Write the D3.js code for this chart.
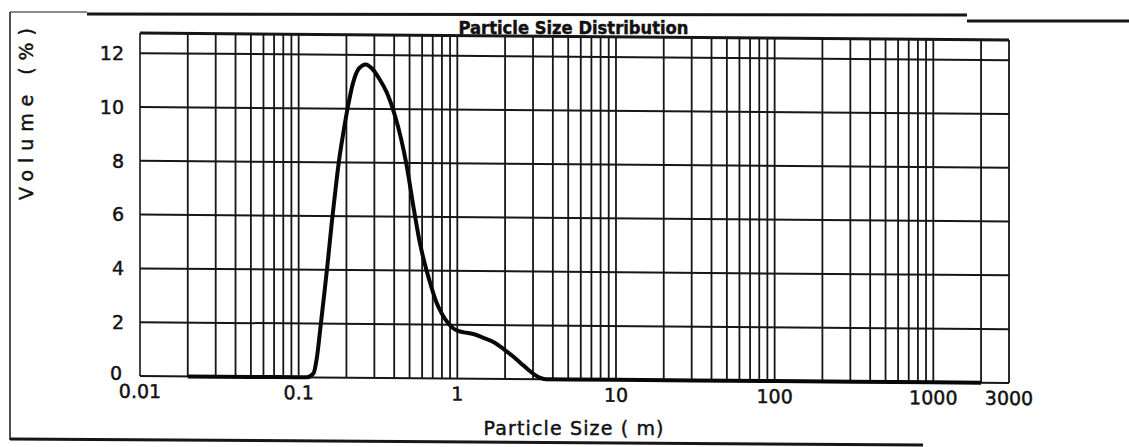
<!DOCTYPE html>
<html>
<head>
<meta charset="utf-8">
<script src="https://cdn.jsdelivr.net/npm/d3@7"></script>
<style>
  body { margin: 0; background: #fff; }
  text { font-family: "DejaVu Sans", sans-serif; fill: #111; stroke: #111; stroke-width: 0.45px; }
</style>
</head>
<body>
<div id="psd_chart"></div>
<script>
// ------------------------------------------------------------------------ //
// DATA
// ------------------------------------------------------------------------ //

// particle size (um) and volume (%) of the distribution curve
var sizes = [0.02, 0.05, 0.1, 0.113, 0.124, 0.13, 0.138, 0.145, 0.152, 0.162, 0.17, 0.179,
  0.19, 0.204, 0.22, 0.24, 0.265, 0.29, 0.32, 0.36, 0.40, 0.44, 0.476, 0.535, 0.58, 0.637,
  0.69, 0.736, 0.8, 0.877, 0.95, 1.0, 1.1, 1.26, 1.45, 1.71, 1.95, 2.2, 2.5, 2.79, 3.05,
  3.3, 3.6, 5, 10, 100, 1000, 2000]
var volume = [0, 0, 0, 0, 0.15, 0.7, 2.0, 3.1, 4.2, 5.8, 6.9, 8.0,
  9.0, 10.05, 10.95, 11.5, 11.65, 11.5, 11.15, 10.6, 9.85, 8.95, 8.0, 6.2, 5.05, 4.05,
  3.35, 2.85, 2.4, 2.05, 1.85, 1.78, 1.72, 1.66, 1.53, 1.35, 1.12, 0.88, 0.6, 0.36, 0.18,
  0.06, 0, 0, 0, 0, 0, 0]

// axis ticks and labels
var yTicks = [0, 2, 4, 6, 8, 10, 12]
var xLabels = [0.01, 0.1, 1, 10, 100, 1000, 3000]
var xDomain = [0.01, 3000]
var yDomain = [0, 12.75]

var chartTitle = "Particle Size Distribution"
var xTitle = "Particle Size ( m)"
var yTitle = "Volume (%)"

// ------------------------------------------------------------------------ //
// SVG AREA
// ------------------------------------------------------------------------ //

var W = 1129, H = 447
var margin = {top: 33, right: 120, bottom: 71, left: 140},
  width = W - margin.left - margin.right,
  height = H - margin.top - margin.bottom;

var svg = d3.select("#psd_chart")
  .append("svg")
    .attr("width", W)
    .attr("height", H)

// the scan is slightly sheared: horizontal lines drop ~7px to the right
var plot = svg.append("g")
  .attr("transform", "translate(" + margin.left + "," + margin.top + ") skewY(0.46)")

// ------------------------------------------------------------------------ //
// SCALES
// ------------------------------------------------------------------------ //

var x = d3.scaleLog()
  .domain(xDomain)
  .range([0, width])

var y = d3.scaleLinear()
  .domain(yDomain)
  .range([height, 0])

var ink = "#161616"

// ------------------------------------------------------------------------ //
// GRID
// ------------------------------------------------------------------------ //

// vertical log grid: every 1..9 x 10^k
plot.selectAll(".vgrid")
  .data(x.ticks().filter(function(d){ return d > xDomain[0] && d < xDomain[1] }))
  .enter()
  .append("line")
    .attr("class", "vgrid")
    .attr("x1", function(d){ return x(d) })
    .attr("x2", function(d){ return x(d) })
    .attr("y1", 0)
    .attr("y2", height)
    .style("stroke", ink)
    .style("stroke-width", 1.8)

// horizontal grid
plot.selectAll(".hgrid")
  .data(yTicks.filter(function(d){ return d > 0 }))
  .enter()
  .append("line")
    .attr("class", "hgrid")
    .attr("x1", 0)
    .attr("x2", width)
    .attr("y1", function(d){ return y(d) })
    .attr("y2", function(d){ return y(d) })
    .style("stroke", ink)
    .style("stroke-width", 2)

// plot frame
plot.append("line")
  .attr("x1", 0).attr("x2", width).attr("y1", y(yDomain[1])).attr("y2", y(yDomain[1]))
  .style("stroke", ink).style("stroke-width", 3)
plot.append("line")
  .attr("x1", 0).attr("x2", width).attr("y1", y(0)).attr("y2", y(0))
  .style("stroke", ink).style("stroke-width", 2)
plot.append("line")
  .attr("x1", x(xDomain[0])).attr("x2", x(xDomain[0])).attr("y1", 0).attr("y2", height)
  .style("stroke", ink).style("stroke-width", 1.6)
plot.append("line")
  .attr("x1", x(xDomain[1])).attr("x2", x(xDomain[1])).attr("y1", 0).attr("y2", height)
  .style("stroke", ink).style("stroke-width", 1.8)

// ------------------------------------------------------------------------ //
// CURVE
// ------------------------------------------------------------------------ //

var line = d3.line()
  .x(function(d){ return x(d[0]) })
  .y(function(d){ return y(d[1]) })
  .curve(d3.curveMonotoneX)

plot.append("path")
  .datum(d3.zip(sizes, volume))
  .attr("d", line)
  .style("fill", "none")
  .style("stroke", "#080808")
  .style("stroke-width", 4)
  .style("stroke-linejoin", "round")

// ------------------------------------------------------------------------ //
// LABELS
// ------------------------------------------------------------------------ //

plot.selectAll(".xlab")
  .data(xLabels)
  .enter()
  .append("text")
    .attr("class", "xlab")
    .attr("x", function(d){ return x(d) })
    .attr("y", height + 22)
    .style("font-size", "19px")
    .style("text-anchor", "middle")
    .text(function(d){ return d })

svg.selectAll(".ylab")
  .data(yTicks)
  .enter()
  .append("text")
    .attr("class", "ylab")
    .attr("x", function(d){ return d === 0 ? margin.left - 18 : margin.left - 16 })
    .attr("y", function(d){ return margin.top + y(d) - (d === 0 ? 3 : 0) })
    .attr("dy", "0.36em")
    .style("font-size", "19px")
    .style("text-anchor", "end")
    .text(function(d){ return d })

// titles
svg.append("text")
  .attr("x", margin.left + width / 2 - 1)
  .attr("y", 34)
  .attr("textLength", 230)
  .attr("lengthAdjust", "spacingAndGlyphs")
  .style("font-size", "17px")
  .style("font-weight", "bold")
  .style("text-anchor", "middle")
  .text(chartTitle)

svg.append("text")
  .attr("x", margin.left + width / 2 - 1)
  .attr("y", 435)
  .attr("textLength", 180)
  .style("font-size", "19px")
  .style("text-anchor", "middle")
  .text(xTitle)

svg.append("text")
  .attr("transform", "translate(33,114) rotate(-90)")
  .attr("textLength", 172)
  .style("font-size", "19px")
  .style("text-anchor", "middle")
  .text(yTitle)

// ------------------------------------------------------------------------ //
// OUTER PAGE FRAME
// ------------------------------------------------------------------------ //

var frame = [
  {x1: 10, y1: 12, x2: 87, y2: 12, w: 1.2},
  {x1: 87, y1: 14, x2: 967, y2: 15, w: 3},
  {x1: 967, y1: 21, x2: 1129, y2: 21, w: 3},
  {x1: 10, y1: 12, x2: 10, y2: 440, w: 1.5},
  {x1: 10, y1: 439, x2: 923, y2: 445, w: 3}
]
svg.selectAll(".frame")
  .data(frame)
  .enter()
  .append("line")
    .attr("class", "frame")
    .attr("x1", function(d){ return d.x1 })
    .attr("y1", function(d){ return d.y1 })
    .attr("x2", function(d){ return d.x2 })
    .attr("y2", function(d){ return d.y2 })
    .style("stroke", ink)
    .style("stroke-width", function(d){ return d.w })
</script>
</body>
</html>
